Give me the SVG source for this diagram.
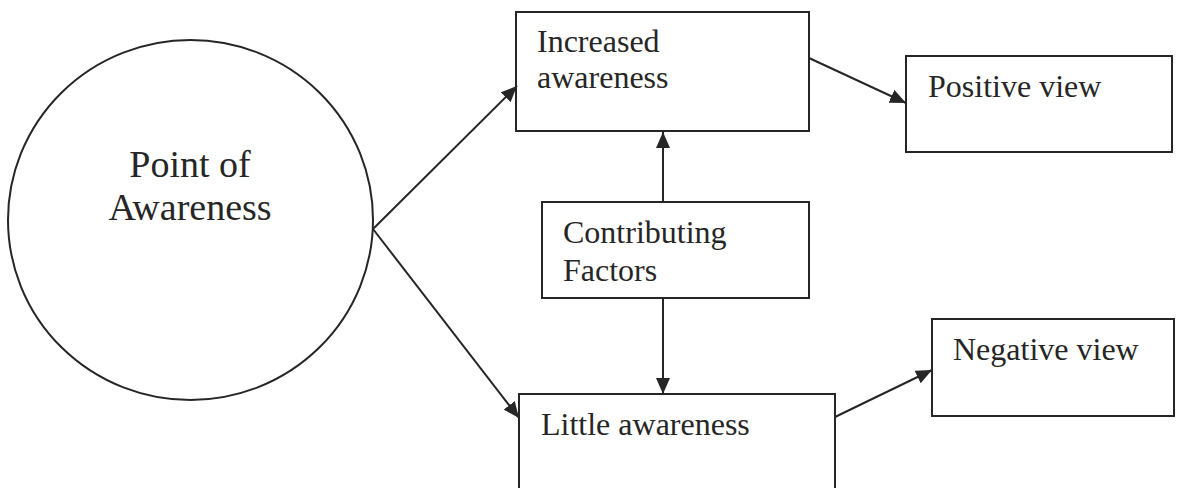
<svg xmlns="http://www.w3.org/2000/svg" width="1181" height="488" viewBox="0 0 1181 488">
<style>
.shape{fill:#fff;stroke:#262626;stroke-width:2}
.lbl{font-family:"Liberation Serif","Times New Roman",serif;font-size:32px;fill:#262626}
.big{font-size:38px}
.conn{stroke:#262626;stroke-width:2;fill:none}
</style>
<defs>
<marker id="ah" markerUnits="userSpaceOnUse" markerWidth="18" markerHeight="14" refX="16" refY="7" orient="auto">
<path d="M0,0 L16,7 L0,14 Z" fill="#262626"/>
</marker>
</defs>
<rect width="1181" height="488" fill="#fff"/>
<g id="point-of-awareness">
<ellipse class="shape" cx="190.5" cy="220" rx="182.5" ry="180"/>
<text class="lbl big" x="190" y="177" text-anchor="middle">Point of</text>
<text class="lbl big" x="190" y="220" text-anchor="middle">Awareness</text>
</g>
<g id="increased-awareness">
<rect class="shape" x="516" y="12" width="293" height="119"/>
<text class="lbl" x="537" y="52">Increased</text>
<text class="lbl" x="537" y="88">awareness</text>
</g>
<g id="positive-view">
<rect class="shape" x="906" y="56" width="266" height="96"/>
<text class="lbl" x="928" y="97">Positive view</text>
</g>
<g id="contributing-factors">
<rect class="shape" x="542" y="202" width="267" height="96"/>
<text class="lbl" x="563" y="243">Contributing</text>
<text class="lbl" x="563" y="281">Factors</text>
</g>
<g id="little-awareness">
<rect class="shape" x="519" y="394" width="316" height="110"/>
<text class="lbl" x="541" y="435">Little awareness</text>
</g>
<g id="negative-view">
<rect class="shape" x="932" y="319" width="242" height="97"/>
<text class="lbl" x="953" y="360">Negative view</text>
</g>
<g id="connectors">
<line class="conn" x1="373" y1="229" x2="517" y2="86" marker-end="url(#ah)"/>
<line class="conn" x1="373" y1="229" x2="519" y2="418" marker-end="url(#ah)"/>
<line class="conn" x1="663" y1="202" x2="663" y2="132" marker-end="url(#ah)"/>
<line class="conn" x1="663" y1="298" x2="663" y2="394" marker-end="url(#ah)"/>
<line class="conn" x1="809" y1="58" x2="906" y2="103" marker-end="url(#ah)"/>
<line class="conn" x1="835" y1="417" x2="932" y2="370" marker-end="url(#ah)"/>
</g>
</svg>
